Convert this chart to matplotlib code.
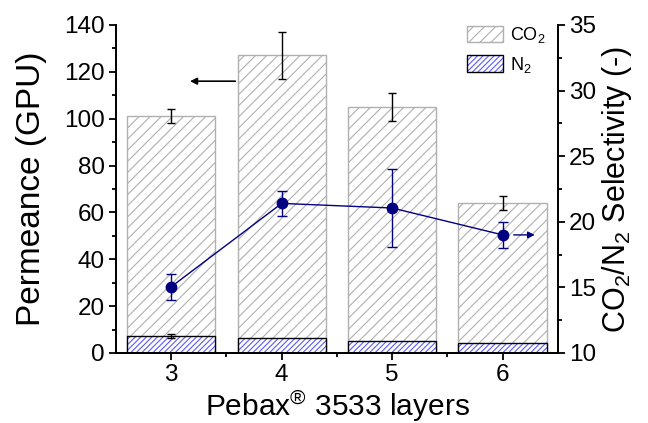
import matplotlib
matplotlib.use("Agg")
import matplotlib.pyplot as plt
from matplotlib.ticker import MultipleLocator, FixedLocator
from matplotlib.patches import Patch
from matplotlib.legend_handler import HandlerTuple

plt.rcParams['font.family'] = ['Liberation Sans', 'DejaVu Sans']
plt.rcParams['mathtext.fontset'] = 'custom'
plt.rcParams['mathtext.rm'] = 'Liberation Sans'
plt.rcParams['mathtext.it'] = 'Liberation Sans'
plt.rcParams['hatch.linewidth'] = 0.8

layers = [3, 4, 5, 6]
co2_perm = [101, 127, 105, 64]
co2_err = [3, 10, 6, 3]
n2_perm = [7.1, 6.2, 5.0, 4.1]
n2_err = [0.8, 0, 0, 0]
selectivity = [15.05, 21.4, 21.05, 19.0]
sel_err = [1.0, 0.97, 3.0, 0.97]

fig = plt.figure(figsize=(6.48, 4.23), dpi=100)
ax = fig.add_axes([0.179, 0.1655, 0.682, 0.7755])
ax2 = ax.twinx()

w = 0.8
ax.bar(layers, co2_perm, width=w, facecolor='white', edgecolor='#b0b0b0',
       hatch='///', linewidth=1.0, zorder=2)
ax.errorbar(layers, co2_perm, yerr=co2_err, fmt='none', ecolor='black',
            elinewidth=1.0, capsize=3, capthick=1.0, zorder=3)
ax.bar(layers, n2_perm, width=w, facecolor='white', edgecolor='#5a5aff',
       hatch='//////', linewidth=0, zorder=2)
ax.bar(layers, n2_perm, width=w, facecolor='none', edgecolor='black',
       linewidth=1.0, zorder=3)
ax.errorbar(layers[:1], n2_perm[:1], yerr=n2_err[:1], fmt='none', ecolor='black',
            elinewidth=1.0, capsize=3, capthick=1.0, zorder=4)

ax2.errorbar(layers, selectivity, yerr=sel_err, fmt='o-', color='#000080',
             ecolor='#000080', markersize=7.5, linewidth=1.0, elinewidth=1.0,
             capsize=3.5, capthick=1.0, zorder=5)

ax.annotate('', xy=(3.17, 116), xytext=(3.58, 116),
            arrowprops=dict(arrowstyle='-|>', color='black', lw=1.2,
                            mutation_scale=10, shrinkA=0, shrinkB=0))
ax2.annotate('', xy=(6.29, 19.0), xytext=(6.1, 19.0),
             arrowprops=dict(arrowstyle='-|>', color='#000080', lw=1.0,
                             mutation_scale=10, shrinkA=0, shrinkB=0))

ax.set_xlim(2.5, 6.5)
ax.set_ylim(0, 140)
ax2.set_ylim(10, 35)

ax.set_xticks(layers)
ax.set_xticklabels([str(v) for v in layers])
ax.xaxis.set_minor_locator(FixedLocator([3.5, 4.5, 5.5]))
ax.yaxis.set_major_locator(MultipleLocator(20))
ax.yaxis.set_minor_locator(MultipleLocator(10))
ax2.yaxis.set_major_locator(MultipleLocator(5))
ax2.yaxis.set_minor_locator(MultipleLocator(2.5))

for a in (ax, ax2):
    a.tick_params(which='major', length=5, width=1.3, labelsize=17.5, direction='out', pad=3)
    a.tick_params(which='minor', length=3, width=1.3, direction='out')
    for s in a.spines.values():
        s.set_linewidth(1.3)
ax.spines['top'].set_visible(False)
ax2.spines['top'].set_visible(False)

ax.set_ylabel('Permeance (GPU)', fontsize=24)
ax.yaxis.set_label_coords(-0.157, 0.5)
ax2.set_ylabel('CO$_2$/N$_2$ Selectivity (-)', fontsize=22)
ax2.yaxis.set_label_coords(1.095, 0.5)
ax.set_xlabel('Pebax$^{®}$ 3533 layers', fontsize=21.5)
ax.xaxis.set_label_coords(0.5, -0.107)

h_co2 = Patch(facecolor='white', edgecolor='#b0b0b0', hatch='///', linewidth=1.0)
h_n2a = Patch(facecolor='white', edgecolor='#5a5aff', hatch='//////', linewidth=0)
h_n2b = Patch(facecolor='none', edgecolor='black', linewidth=1.0)
leg = ax.legend([h_co2, (h_n2a, h_n2b)], ['CO$_2$', 'N$_2$'], loc='upper right',
                frameon=False, fontsize=13, handlelength=2.0, handleheight=1.0,
                bbox_to_anchor=(1.008, 1.05), labelspacing=0.55, handletextpad=0.35,
                handler_map={tuple: HandlerTuple(ndivide=1, pad=0)})

ax.set_zorder(ax2.get_zorder() - 1)
ax2.patch.set_visible(False)

fig.savefig('out.png', dpi=100)
